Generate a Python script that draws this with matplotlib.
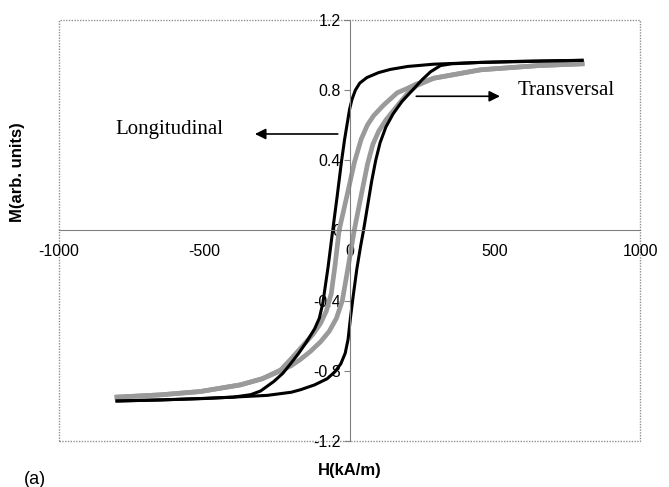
import matplotlib
matplotlib.use("Agg")
import matplotlib.pyplot as plt
from matplotlib.patches import Rectangle

# Datos: H en kA/m, M en unidades arbitrarias
# Rama descendente del lazo negro
h_negro_baja = [800, 600, 450, 290, 200, 140, 100, 60, 35, 20, 8, 0, -8, -17, -28,
                -43, -58, -74, -92, -104, -120, -146, -175, -203, -230, -260, -306,
                -340, -400, -500, -650, -800]
m_negro_baja = [0.97, 0.965, 0.958, 0.948, 0.935, 0.918, 0.9, 0.872, 0.84, 0.80, 0.745,
                0.69, 0.61, 0.52, 0.39, 0.19, 0.0, -0.21, -0.415, -0.50, -0.56, -0.63,
                -0.70, -0.76, -0.815, -0.86, -0.915, -0.936, -0.95, -0.958, -0.966,
                -0.972]

# Rama ascendente del lazo negro
h_negro_sube = [-800, -650, -513, -400, -283, -200, -169, -120, -77, -50, -30, -15, -5,
                3, 12, 25, 38, 48, 62, 76, 90, 105, 125, 150, 180, 222, 250, 279, 313,
                350, 450, 600, 800]
m_negro_sube = [-0.972, -0.966, -0.958, -0.95, -0.94, -0.922, -0.908, -0.88, -0.845,
                -0.805, -0.76, -0.70, -0.62, -0.50, -0.38, -0.22, -0.09, 0.0, 0.14, 0.28,
                0.40, 0.50, 0.59, 0.665, 0.735, 0.81, 0.86, 0.905, 0.94, 0.95, 0.958,
                0.963, 0.97]

# Rama descendente del lazo gris
h_gris_baja = [800, 650, 451, 290, 230, 199, 164, 118, 83, 61, 40, 17, -10, -36, -50,
               -63, -80, -100, -125, -157, -200, -237, -300, -375, -513, -650, -800]
m_gris_baja = [0.95, 0.94, 0.916, 0.868, 0.835, 0.81, 0.785, 0.716, 0.655, 0.60, 0.52,
               0.39, 0.19, 0.0, -0.20, -0.36, -0.46, -0.53, -0.59, -0.65, -0.73, -0.795,
               -0.845, -0.88, -0.918, -0.937, -0.95]

# Rama ascendente del lazo gris
h_gris_sube = [-800, -650, -513, -375, -300, -237, -200, -169, -135, -100, -70, -45,
               -25, -5, 16, 40, 62, 80, 100, 125, 164, 199, 230, 290, 451, 650, 800]
m_gris_sube = [-0.95, -0.937, -0.918, -0.88, -0.845, -0.80, -0.77, -0.735, -0.69,
               -0.635, -0.575, -0.50, -0.40, -0.21, 0.0, 0.2, 0.38, 0.49, 0.565, 0.63,
               0.71, 0.78, 0.825, 0.868, 0.916, 0.94, 0.95]

x_ticks = [-1000, -500, 0, 500, 1000]
x_etiquetas = ["-1000", "-500", "0", "500", "1000"]
y_ticks = [-1.2, -0.8, -0.4, 0, 0.4, 0.8, 1.2]
y_etiquetas = ["-1.2", "-0.8", "-0.4", "0", "0.4", "0.8", "1.2"]

fig = plt.figure(figsize=(6.69, 4.87), dpi=100)
ax = fig.add_axes([0.088, 0.0945, 0.869, 0.8645])

# Curvas
ax.plot(h_gris_baja, m_gris_baja, color="#9a9a9a", lw=3.4, solid_joinstyle="round")
ax.plot(h_gris_sube, m_gris_sube, color="#9a9a9a", lw=3.4, solid_joinstyle="round")
ax.plot(h_negro_baja, m_negro_baja, color="black", lw=2.2, solid_joinstyle="round")
ax.plot(h_negro_sube, m_negro_sube, color="black", lw=2.2, solid_joinstyle="round")

ax.set_xlim(-1000, 1000)
ax.set_ylim(-1.2, 1.2)

# Ejes cruzados en el origen, estilo Excel
ax.spines["left"].set_position("zero")
ax.spines["bottom"].set_position("zero")
ax.spines["left"].set_color("#808080")
ax.spines["bottom"].set_color("#808080")
ax.spines["left"].set_linewidth(0.8)
ax.spines["bottom"].set_linewidth(0.8)
ax.spines["top"].set_visible(False)
ax.spines["right"].set_visible(False)

# Borde del area de trazado
ax.add_patch(Rectangle((0, 0), 1, 1, transform=ax.transAxes, fill=False,
                       edgecolor="#909090", lw=1.0, ls=(0, (1, 1)), clip_on=False))

fuente = "Liberation Sans"
ax.set_xticks(x_ticks)
ax.set_xticklabels(x_etiquetas, family=fuente, fontsize=11.5)
ax.set_yticks(y_ticks)
ax.set_yticklabels(y_etiquetas, family=fuente, fontsize=11.5)
ax.tick_params(axis="x", direction="out", length=0, pad=10, colors="black")
ax.tick_params(axis="y", direction="out", length=4, width=0.8, pad=2, colors="black")
ax.tick_params(axis="y", color="#808080")

# Etiquetas de los ejes
fig.text(18 / 669, 1 - 172 / 487, "M(arb. units)", rotation=90, ha="center",
         va="center", family=fuente, fontweight="bold", fontsize=12)
fig.text(350 / 669, 1 - 470 / 487, "H(kA/m)", ha="center", va="center",
         family=fuente, fontweight="bold", fontsize=12)
fig.text(35 / 669, 1 - 480 / 487, "(a)", ha="center", va="center",
         family=fuente, fontsize=13)

# Anotaciones con flechas
serif = "Liberation Serif"
ax.annotate("", xy=(-335, 0.55), xytext=(-31, 0.55),
            arrowprops=dict(arrowstyle="-|>", color="black", lw=1.2, mutation_scale=16))
ax.text(-805, 0.573, "Longitudinal", family=serif, fontsize=15, va="center", ha="left")
ax.annotate("", xy=(527, 0.765), xytext=(220, 0.765),
            arrowprops=dict(arrowstyle="-|>", color="black", lw=1.2, mutation_scale=16))
ax.text(577, 0.80, "Transversal", family=serif, fontsize=15, va="center", ha="left")

fig.savefig("out.png", dpi=100)
